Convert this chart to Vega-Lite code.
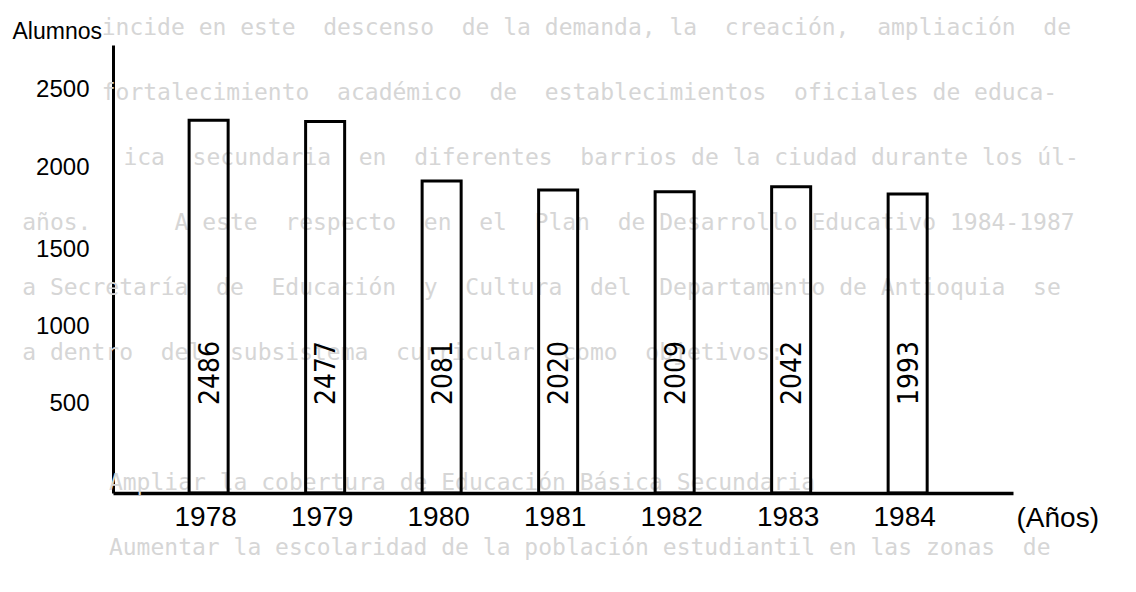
{
  "$schema": "https://vega.github.io/schema/vega-lite/v6.json",
  "width": 900,
  "height": 448,
  "autosize": {"type": "none"},
  "padding": {"left": 113, "top": 45, "right": 123, "bottom": 99},
  "background": "white",
  "config": {"view": {"stroke": null}, "font": "Liberation Sans"},
  "datasets": {
    "enrollment": [
      {"year": "1978", "alumnos": 2486},
      {"year": "1979", "alumnos": 2477},
      {"year": "1980", "alumnos": 2081},
      {"year": "1981", "alumnos": 2020},
      {"year": "1982", "alumnos": 2009},
      {"year": "1983", "alumnos": 2042},
      {"year": "1984", "alumnos": 1993}
    ],
    "pageText": [
      {"line": 0, "col": 6, "text": "incide en este \u00a0descenso \u00a0de la demanda, la \u00a0creación, \u00a0ampliación \u00a0de"},
      {"line": 1, "col": 6, "text": "fortalecimiento \u00a0académico \u00a0de \u00a0establecimientos \u00a0oficiales de educa-"},
      {"line": 2, "col": 7.5, "text": "ica \u00a0secundaria \u00a0en \u00a0diferentes \u00a0barrios de la ciudad durante los úl-"},
      {"line": 3, "col": 0.5, "text": "años. \u00a0\u00a0\u00a0\u00a0\u00a0A este \u00a0respecto \u00a0en \u00a0el \u00a0Plan \u00a0de Desarrollo Educativo 1984-1987"},
      {"line": 4, "col": 0.5, "text": "a Secretaría \u00a0de \u00a0Educación \u00a0y \u00a0Cultura \u00a0del \u00a0Departamento de Antioquia \u00a0se"},
      {"line": 5, "col": 0.5, "text": "a dentro \u00a0del \u00a0subsistema \u00a0curricular \u00a0como \u00a0objetivos:"},
      {"line": 7, "col": 6.5, "text": "Ampliar la cobertura de Educación Básica Secundaria"},
      {"line": 8, "col": 6.5, "text": "Aumentar la escolaridad de la población estudiantil en las zonas \u00a0de"}
    ]
  },
  "layer": [
    {
      "data": {"name": "pageText"},
      "mark": {"type": "text", "align": "left", "baseline": "middle", "font": "DejaVu Sans Mono", "fontSize": 23, "color": "#d6d6d6"},
      "encoding": {
        "x": {"field": "col", "type": "quantitative", "axis": null, "scale": {"domain": [6.782, 69.066], "nice": false, "zero": false}},
        "y": {"field": "line", "type": "quantitative", "axis": null, "scale": {"domain": [0.2615, 7.1538], "reverse": true, "nice": false, "zero": false}},
        "text": {"field": "text"}
      }
    },
    {
      "data": {"name": "enrollment"},
      "encoding": {
        "x": {
          "field": "year", "type": "ordinal",
          "scale": {"paddingInner": 0.665, "paddingOuter": 0.695, "align": 0.47},
          "axis": {
            "orient": "bottom", "title": "(Años)", "titleX": 903, "titleY": 33, "titleAlign": "left", "titleBaseline": "alphabetic",
            "titleFontSize": 28, "titleFontWeight": "normal", "titleColor": "black",
            "labelFontSize": 28, "labelAngle": 0, "labelBaseline": "alphabetic", "labelPadding": 32, "labelOffset": -3, "labelColor": "black",
            "ticks": false, "tickSize": 0, "domainColor": "black", "domainWidth": 3.5
          }
        }
      },
      "layer": [
        {
          "mark": {"type": "bar", "fill": "white", "fillOpacity": 0, "stroke": "black", "strokeWidth": 3},
          "encoding": {
            "y": {
              "field": "alumnos", "type": "quantitative",
              "scale": {"domain": [0, 2987], "nice": false},
              "axis": {
                "orient": "left", "values": [500, 1000, 1500, 2000, 2500], "format": "d",
                "labelOffset": {"expr": "datum.value == 2500 ? -29 : datum.value == 2000 ? -26 : datum.value == 1500 ? -19 : datum.value == 1000 ? -17 : -15"},
                "labelPadding": 24,
                "ticks": false, "tickSize": 0, "grid": false, "domainWidth": 3, "domainColor": "black",
                "labelFontSize": 24, "labelColor": "black",
                "title": "Alumnos", "titleAngle": 0, "titleAlign": "left", "titleBaseline": "alphabetic", "titleX": -101, "titleY": -7,
                "titleFontSize": 23, "titleFontWeight": "normal", "titleColor": "black"
              }
            }
          }
        },
        {
          "mark": {"type": "text", "angle": 270, "align": "left", "baseline": "middle", "dy": 2, "font": "DejaVu Sans Condensed, DejaVu Sans", "fontSize": 28, "color": "black"},
          "encoding": {
            "y": {"datum": 587, "type": "quantitative"},
            "text": {"field": "alumnos", "type": "quantitative", "format": "d"}
          }
        }
      ]
    }
  ],
  "resolve": {"scale": {"x": "independent", "y": "independent"}}
}
